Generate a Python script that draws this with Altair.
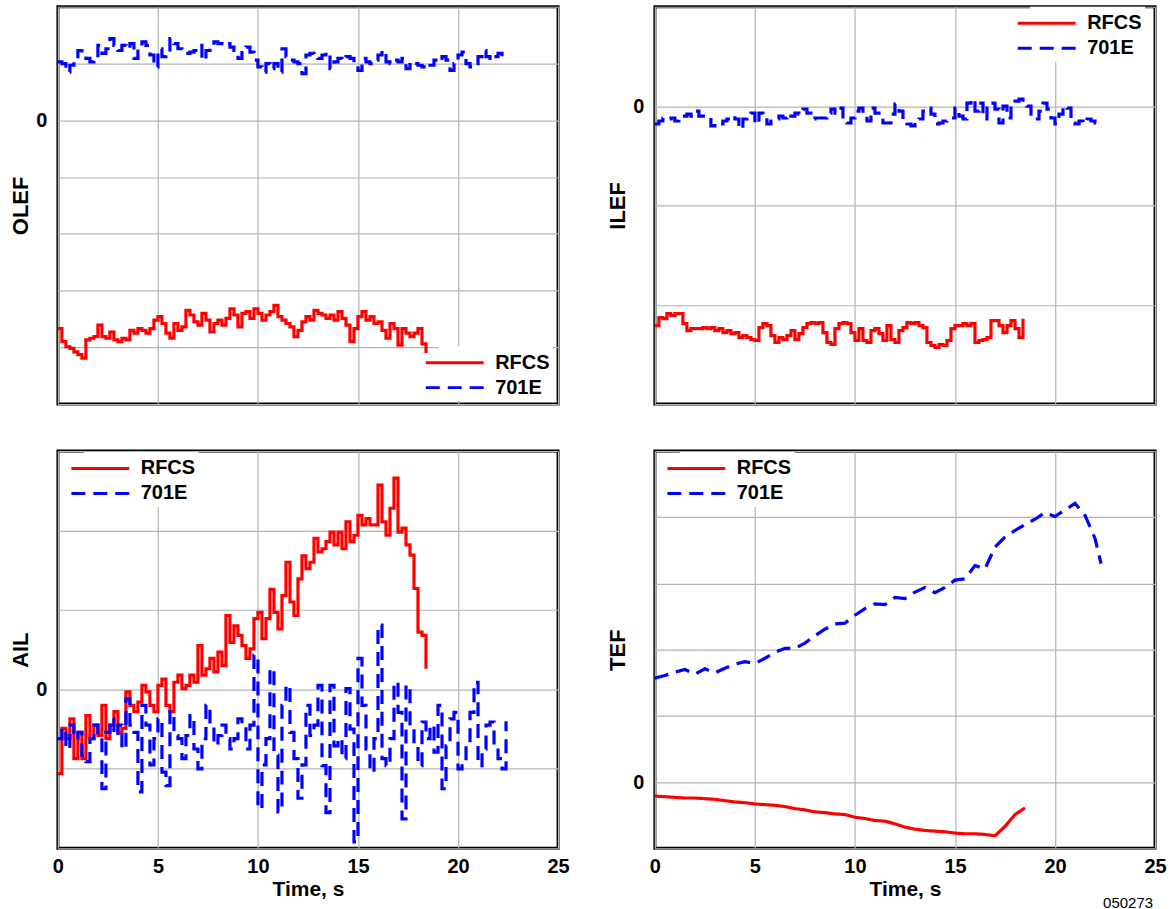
import altair as alt
import pandas as pd

FONT = "Liberation Sans"

# ---------------- data ----------------
DT = 0.2

olef_rfcs = [-3.67,-3.9,-3.99,-4.02,-4.08,-4.13,-4.19,-3.87,-3.84,-3.81,
             -3.61,-3.81,-3.84,-3.73,-3.87,-3.9,-3.84,-3.87,-3.7,-3.75,
             -3.67,-3.7,-3.75,-3.67,-3.52,-3.46,-3.58,-3.75,-3.84,-3.58,
             -3.7,-3.64,-3.35,-3.43,-3.55,-3.61,-3.4,-3.52,-3.73,-3.58,
             -3.52,-3.61,-3.49,-3.32,-3.43,-3.64,-3.4,-3.37,-3.49,-3.32,
             -3.4,-3.52,-3.43,-3.37,-3.26,-3.46,-3.52,-3.58,-3.64,-3.81,
             -3.7,-3.55,-3.46,-3.52,-3.35,-3.4,-3.43,-3.49,-3.43,-3.52,
             -3.37,-3.49,-3.61,-3.9,-3.67,-3.46,-3.37,-3.52,-3.46,-3.58,
             -3.55,-3.7,-3.84,-3.58,-3.67,-3.96,-3.67,-3.75,-3.81,-3.75,
             -3.67,-3.94,-4.1]
olef_701e = [1.03,1.0,0.85,0.97,1.12,1.23,1.18,1.09,1.03,1.06,
             1.32,1.18,1.26,1.44,1.32,1.23,1.32,1.26,1.35,1.09,
             1.26,1.38,1.32,1.15,0.94,1.26,1.12,1.2,1.44,1.35,
             1.26,1.18,1.18,1.2,1.23,1.32,1.06,1.23,1.32,1.38,
             1.35,1.32,1.35,1.29,1.23,1.09,1.23,1.29,1.2,1.06,
             0.94,0.85,1.0,0.91,1.0,0.85,1.26,1.12,1.06,1.03,
             1.0,0.82,
             1.15,1.18,1.12,1.09,1.15,1.2,0.91,1.03,1.09,1.06,
             1.12,1.09,1.0,0.88,1.09,1.03,1.0,1.06,1.15,1.23,
             1.03,1.0,1.06,1.03,1.09,0.91,1.03,1.0,0.97,0.94,
             1.0,0.97,1.06,1.03,1.12,1.06,0.88,1.0,1.15,1.2,
             1.0,0.94,1.0,1.12,1.23,1.12,1.06,1.12,1.18,1.09]

ilef_rfcs = [-2.21,-2.13,-2.14,-2.09,-2.11,-2.09,-2.09,-2.19,-2.26,-2.24,
             -2.24,-2.24,-2.23,-2.24,-2.23,-2.26,-2.24,-2.28,-2.26,-2.29,
             -2.28,-2.33,-2.31,-2.33,-2.35,-2.36,-2.23,-2.19,-2.21,-2.31,
             -2.38,-2.33,-2.35,-2.31,-2.26,-2.35,-2.29,-2.23,-2.19,-2.18,
             -2.19,-2.18,-2.28,-2.38,-2.4,-2.24,-2.19,-2.18,-2.19,-2.28,
             -2.36,-2.24,-2.36,-2.38,-2.26,-2.24,-2.29,-2.36,-2.21,-2.35,
             -2.38,-2.26,-2.23,-2.18,-2.19,-2.18,-2.21,-2.23,-2.38,-2.41,
             -2.43,-2.4,-2.41,-2.36,-2.24,-2.21,-2.21,-2.19,-2.21,-2.19,
             -2.38,-2.36,-2.35,-2.33,-2.16,-2.16,-2.21,-2.28,-2.21,-2.16,
             -2.24,-2.33,-2.14]
ilef_701e = [-0.18,-0.15,-0.12,-0.13,-0.12,-0.15,-0.13,-0.1,-0.08,-0.1,
             -0.05,-0.1,-0.1,-0.12,-0.2,-0.17,-0.18,-0.15,-0.13,-0.1,
             -0.13,-0.23,-0.13,-0.1,-0.07,-0.18,-0.07,-0.12,-0.18,-0.15,
             -0.13,-0.1,-0.12,-0.08,-0.1,-0.07,-0.08,-0.03,-0.07,-0.13,
             -0.12,-0.12,-0.12,-0.07,-0.03,-0.07,-0.02,-0.15,-0.17,-0.12,
             -0.05,-0.02,-0.1,-0.15,-0.02,-0.07,-0.12,-0.17,-0.17,-0.08,
             0.02,-0.05,-0.13,-0.18,-0.2,-0.17,-0.13,-0.05,-0.02,-0.08,
             -0.18,-0.17,-0.15,-0.13,-0.12,-0.02,-0.1,-0.13,0.03,0.07,
             -0.05,0.03,-0.13,-0.02,0.03,-0.03,-0.17,0.0,-0.12,0.0,
             0.05,0.07,0.02,0.0,-0.1,-0.13,-0.05,0.03,-0.03,-0.12,
             -0.18,-0.08,0.0,-0.02,-0.17,-0.18,-0.15,-0.17,-0.13,-0.15,
             -0.17,-0.17]

ail_rfcs = [-1.06,-0.49,-0.62,-0.37,-0.87,-0.54,-0.87,-0.33,-0.62,-0.45,
            -0.58,-0.2,-0.62,-0.45,-0.28,-0.54,-0.49,-0.03,-0.2,-0.28,
            -0.16,0.05,-0.03,-0.2,-0.28,0.05,0.13,-0.2,-0.28,0.09,
            0.18,0.01,0.05,0.18,0.09,0.55,0.18,0.26,0.39,0.22,
            0.47,0.3,0.93,0.59,0.8,0.68,0.55,0.39,0.51,0.89,
            0.97,0.64,0.89,1.26,0.97,0.76,1.18,1.6,1.1,0.93,
            1.39,1.68,1.52,1.6,1.9,1.73,1.77,1.86,1.98,1.82,
            1.98,1.77,2.11,1.86,1.94,2.19,2.07,2.15,2.07,2.07,
            2.57,2.11,1.94,2.28,2.66,1.98,2.03,1.82,1.69,1.27,
            0.72,0.68,0.26]
ail_701e = [-0.62,-0.49,-0.75,-0.45,-0.62,-0.54,-0.83,-0.91,-0.62,-0.45,
            -0.54,-1.25,-0.54,-0.37,-0.58,-0.45,-0.75,-0.12,-0.45,-0.54,
            -1.29,-0.2,-0.45,-0.95,-0.62,-0.37,-1.04,-1.21,-0.28,-0.58,
            -0.62,-0.87,-0.58,-0.33,-0.75,-1.0,-0.62,-0.2,-0.41,-0.7,
            -0.58,-0.45,-0.62,-0.75,-0.62,-0.37,-0.45,-0.75,-0.45,0.43,
            -1.5,-0.95,-0.62,0.26,-0.83,-1.54,-0.2,0.05,-0.54,-0.87,
            -1.37,-0.95,-0.2,
            -0.58,-0.45,0.05,-0.96,-1.55,0.05,-0.71,-0.62,-0.87,0.01,
            -0.5,-1.92,0.39,-0.2,-0.75,-1.04,-0.62,0.81,-0.87,-0.96,
            -0.62,0.09,-0.29,-1.63,0.05,-0.5,-0.71,-0.96,-0.41,-0.62,
            -0.45,-0.79,-0.2,-1.25,-0.71,-0.37,-0.29,-1.0,-0.87,-0.71,
            -0.29,0.09,-0.96,-0.75,-0.45,-0.41,-0.71,-0.87,-1.0,-0.4]

tef_rfcs_t = [0.0,0.5,1.0,1.5,2.0,2.5,3.0,3.5,4.0,4.5,5.0,5.5,6.0,6.5,7.0,7.5,8.0,8.5,9.0,9.5,
              10.0,10.5,11.0,11.5,12.0,12.5,13.0,13.5,14.0,14.5,15.0,15.5,16.0,16.5,17.0,17.5,18.0,18.5]
tef_rfcs = [-0.21,-0.22,-0.23,-0.24,-0.24,-0.25,-0.26,-0.28,-0.3,-0.31,
            -0.33,-0.34,-0.35,-0.37,-0.4,-0.42,-0.45,-0.46,-0.48,-0.49,
            -0.53,-0.55,-0.58,-0.59,-0.63,-0.68,-0.71,-0.73,-0.74,-0.75,
            -0.77,-0.78,-0.78,-0.79,-0.81,-0.67,-0.49,-0.39]
tef_701e_t = [0.0,0.5,1.0,1.5,2.0,2.5,3.0,3.5,4.0,4.5,5.0,5.5,6.0,6.5,7.0,7.5,8.0,8.5,9.0,9.5,
              10.0,10.5,11.0,11.5,12.0,12.5,13.0,13.5,14.0,14.5,15.0,15.5,16.0,16.5,17.0,17.5,
              18.0,18.5,19.0,19.5,20.0,20.5,21.0,21.5,22.0,22.3]
tef_701e = [1.57,1.61,1.66,1.7,1.63,1.71,1.65,1.72,1.78,1.82,
            1.79,1.87,1.96,2.02,2.02,2.1,2.21,2.31,2.39,2.4,
            2.52,2.62,2.69,2.68,2.79,2.77,2.87,2.94,2.86,2.94,
            3.05,3.07,3.27,3.22,3.55,3.7,3.8,3.89,3.97,4.07,
            4.01,4.11,4.21,4.03,3.68,3.3]

series_names = ["RFCS", "701E"]
x_ticks = [0, 5, 10, 15, 20, 25]
footnote = ["050273"]


def grid_times(vals):
    return [round(i * DT, 2) for i in range(len(vals))]


def frame(t1, v1, t2, v2):
    return pd.DataFrame({
        "time": list(t1) + list(t2),
        "value": list(v1) + list(v2),
        "series": ["RFCS"] * len(v1) + ["701E"] * len(v2),
    })


W, H = 501, 398
LW = 3.2


def panel(df, ytitle, ydom, lx, ly, bottom, interp):
    legend = alt.Legend(title=None, orient="none", legendX=lx, legendY=ly,
                        fillColor="white", padding=3, rowPadding=1,
                        symbolType="M-2.5,0L2.5,0", symbolSize=538, symbolStrokeWidth=3,
                        labelFontSize=20, labelFont=FONT, labelFontWeight="bold",
                        labelColor="black", labelOffset=27)
    if bottom:
        xaxis = alt.Axis(values=x_ticks, title="Time, s", labelFlush=False)
    else:
        xaxis = alt.Axis(values=x_ticks, title=None, labels=False)
    yvals = list(range(ydom[0], ydom[1] + 1))
    return alt.Chart(df).mark_line(strokeWidth=LW, clip=True, interpolate=interp).encode(
        x=alt.X("time:Q", scale=alt.Scale(domain=[0, 25], nice=False, zero=False), axis=xaxis),
        y=alt.Y("value:Q", scale=alt.Scale(domain=ydom, nice=False, zero=False),
                axis=alt.Axis(values=yvals, title=ytitle,
                              labelExpr="datum.value == 0 ? '0' : ''")),
        color=alt.Color("series:N", scale=alt.Scale(domain=series_names, range=["#ff0000", "#0000ff"]),
                        legend=legend),
        strokeDash=alt.StrokeDash("series:N", scale=alt.Scale(domain=series_names, range=[[1, 0], [14, 8]]),
                                  legend=legend),
    ).properties(width=W, height=H)


tl = panel(frame(grid_times(olef_rfcs), olef_rfcs, grid_times(olef_701e), olef_701e),
           "OLEF", [-5, 2], 381, 340, False, "step-after")
tr = panel(frame(grid_times(ilef_rfcs), ilef_rfcs, grid_times(ilef_701e), ilef_701e),
           "ILEF", [-3, 1], 376, 0, False, "step-after")
bl = panel(frame(grid_times(ail_rfcs), ail_rfcs, grid_times(ail_701e), ail_701e),
           "AIL", [-2, 3], 26, 1, True, "step-after")
br_line = panel(frame(tef_rfcs_t, tef_rfcs, tef_701e_t, tef_701e),
                "TEF", [-1, 5], 25, 1, True, "linear")
foot = alt.Chart(pd.DataFrame({"label": footnote})).mark_text(
    align="right", baseline="top", fontSize=15, font=FONT, color="black"
).encode(x=alt.value(W - 2), y=alt.value(H + 48), text="label:N")
br = alt.layer(br_line, foot)

chart = alt.concat(tl, tr, bl, br, columns=2, spacing={"row": 47, "column": 97}, bounds="flush").resolve_scale(
    color="independent", strokeDash="independent", x="independent", y="independent"
).resolve_legend(color="independent", strokeDash="independent").properties(
    padding={"left": 8, "top": 4, "right": 5, "bottom": 5}, background="white"
).configure_view(
    stroke="black", strokeWidth=3
).configure_axis(
    domain=False, ticks=False, grid=True, gridColor="#b4b4b4", gridWidth=1.2,
    labelFont=FONT, labelFontSize=20, labelFontWeight="bold", labelColor="black", labelPadding=11,
    titleFont=FONT, titleFontSize=21, titleFontWeight="bold", titleColor="black",
).configure_axisY(titleFontSize=22, titlePadding=3).configure_axisX(titlePadding=2, labelPadding=8)

chart.save("out.html", embed_options={"renderer": "svg", "actions": False})
